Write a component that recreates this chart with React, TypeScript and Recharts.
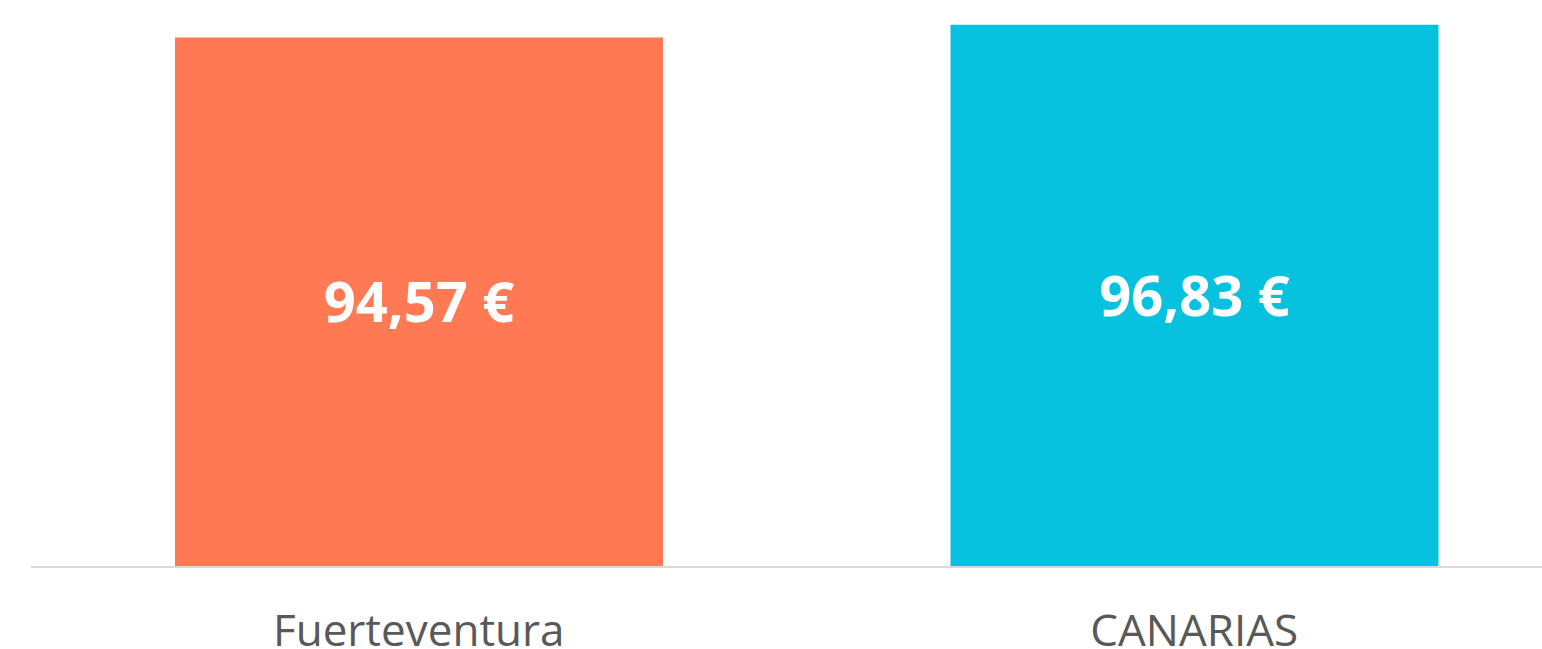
// Precio medio: Fuerteventura vs Canarias
import { BarChart, Bar, XAxis, YAxis, Cell, LabelList } from 'recharts';

const categories = ['Fuerteventura', 'CANARIAS'];
const values = [94.57, 96.83];
const colors = ['#FF7A54', '#06C2DF'];

const data = categories.map((name, i) => ({ name, value: values[i] }));

const FONT = '"Open Sans", Lato, sans-serif';

function euro(v: number) {
  return v.toFixed(2).replace('.', ',') + ' €';
}

function Tick(props: any) {
  const { x, y, payload } = props;
  return (
    <text x={x} y={y + 79} textAnchor="middle" fill="#595959" fontSize={44} fontFamily={FONT}>
      {payload.value}
    </text>
  );
}

export default function App() {
  return (
    <div style={{ position: 'absolute', left: 0, top: 0, width: 1542, height: 649, overflow: 'hidden', background: '#fff' }}>
      <BarChart
        width={1582}
        height={649}
        data={data}
        margin={{ top: 7, right: 0, left: 31, bottom: 0 }}
      >
        <YAxis hide domain={[0, 100]} />
        <XAxis
          dataKey="name"
          height={82}
          tickSize={0}
          tickMargin={0}
          tickLine={false}
          axisLine={{ stroke: '#D9D9D9', strokeWidth: 2 }}
          tick={<Tick />}
          interval={0}
        />
        <Bar dataKey="value" barSize={488} isAnimationActive={false}>
          {data.map((d, i) => (
            <Cell key={d.name} fill={colors[i]} />
          ))}
          <LabelList
            dataKey="value"
            position="center"
            formatter={(v: any) => euro(Number(v))}
            fill="#FFFFFF"
            fontSize={56}
            fontWeight={700}
            fontFamily={FONT}
          />
        </Bar>
      </BarChart>
    </div>
  );
}
